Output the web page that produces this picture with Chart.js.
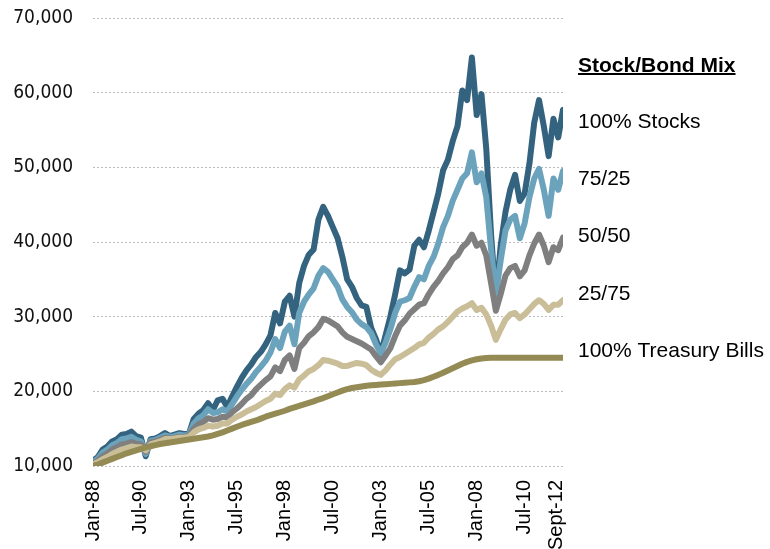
<!DOCTYPE html>
<html>
<head>
<meta charset="utf-8">
<title>Stock/Bond Mix</title>
<script src="https://cdn.jsdelivr.net/npm/chart.js@4.4.1/dist/chart.umd.min.js"></script>
<style>
    html, body { margin: 0; padding: 0; background: #ffffff; }
    #wrap { width: 770px; height: 549px; }
</style>
</head>
<body>
<div id="wrap"><canvas id="chart" width="770" height="549"></canvas></div>
<script>
    // Valores trimestrais (Jan-88 ... Jul-12), crescimento de 10.000
    const stocks100 = [
        10700, 11200, 12200, 12600, 13300, 13600, 14200, 14300, 14600, 14000,
        13800, 11300, 13600, 13700, 14000, 14400, 14000, 14200, 14400, 14300,
        14300, 16300, 17000, 17500, 18400, 17500, 18800, 19000, 17900, 19300,
        20600, 21800, 22800, 23600, 24600, 25300, 26300, 27500, 30500, 29100,
        32000, 32800, 30000, 34500, 36800, 38300, 39000, 43000, 44700, 43500,
        42000, 40500, 38000, 35000, 34000, 32500, 31500, 31300, 28500, 27000,
        25000, 27500, 30000, 33000, 36200, 35800, 36300, 39500, 40300, 39300,
        41500, 44000, 46500, 49600, 51000, 53500, 55500, 60300, 59000, 64700,
        57000, 59800, 52500, 41000, 32500, 39500, 44000, 47000, 49000, 45500,
        46500, 50500, 56000, 59000, 55500, 51500, 56500, 54000, 57700
    ];
    const mix7525 = [
        10500, 11000, 11800, 12200, 12800, 13100, 13600, 13700, 13900, 13500,
        13300, 11600, 13400, 13500, 13800, 14100, 13900, 14000, 14200, 14100,
        14200, 15700, 16400, 16800, 17600, 17100, 17200, 17600, 17300, 18300,
        19300, 20200, 21000, 21700, 22600, 23300, 24100, 25200, 27000, 25800,
        28000, 28800, 26300, 30500, 32000, 33000, 33800, 35500, 36500, 36000,
        35000, 34000, 32300, 31300, 30600, 29600, 29000, 28600, 27800, 26300,
        25100, 26500, 28300, 30500, 32000, 32200, 32500, 34000, 35300, 35000,
        36800, 38000, 39800, 42000, 43500, 45500, 47000, 48500, 49200, 52000,
        48000, 49200, 46000, 39000, 33000, 37500, 41500, 43000, 43500, 40500,
        42500, 46000, 48500, 49800, 47000, 43500, 48500, 47000, 49500
    ];
    const mix5050 = [
        10300, 10700, 11300, 11700, 12200, 12500, 12900, 13000, 13200, 13000,
        12900, 11900, 13200, 13300, 13500, 13800, 13700, 13800, 13900, 13900,
        14000, 15000, 15600, 15900, 16400, 16200, 16300, 16600, 16500, 17200,
        17700, 18300, 19000, 19500, 20300, 20900, 21500, 22000, 23200, 22700,
        24200, 24800, 23000, 25800, 26500, 27400, 27900, 28600, 29700, 29500,
        29100, 28700, 27900, 27300, 27000, 26700, 26400, 26000, 25600, 24700,
        23900, 24800, 25800, 27400, 28800, 29500, 30400, 31000, 31600, 31800,
        33000, 34000, 34800, 35800, 36600, 37700, 38200, 39300, 39900, 41000,
        39500, 39900, 38200, 34500, 30800, 33000, 35500, 36500, 36800, 35400,
        36200, 38200, 39800, 41000, 39500, 37300, 39300, 38900, 40600
    ];
    const mix2575 = [
        10200, 10500, 10900, 11200, 11600, 11900, 12200, 12400, 12600, 12500,
        12500, 12100, 12900, 13100, 13300, 13600, 13600, 13700, 13800, 13800,
        13900, 14500, 14900, 15100, 15400, 15300, 15400, 15700, 15700, 16200,
        16600, 16900, 17300, 17600, 17900, 18300, 18700, 19000, 19700, 19500,
        20300, 20800, 20500, 21600, 22100, 22700, 23000, 23500, 24200, 24100,
        23900, 23700, 23400, 23400, 23600, 23800, 23700, 23500, 22900, 22500,
        22200, 22800, 23600, 24300, 24600, 25000, 25400, 25800, 26300, 26500,
        27200, 27700, 28300, 28700, 29300, 30000, 30700, 31100, 31400, 31800,
        30900, 31200, 30300, 28800, 26900, 28300, 29600, 30300, 30500, 29800,
        30300, 31000, 31700, 32200, 31700, 30900, 31600, 31600, 32200
    ];
    const tbills = [
        10000, 10200, 10450, 10700, 10950, 11200, 11450, 11700, 11900, 12100,
        12300, 12500, 12650, 12800, 12950, 13050, 13150, 13250, 13350, 13450,
        13550, 13650, 13750, 13850, 13950, 14100, 14300, 14500, 14750, 15000,
        15250, 15500, 15700, 15900, 16100, 16350, 16600, 16800, 17000, 17200,
        17400, 17650, 17850, 18050, 18250, 18450, 18650, 18900, 19100, 19350,
        19600, 19850, 20100, 20300, 20450, 20550, 20650, 20750, 20800, 20850,
        20900, 20950, 21000, 21050, 21100, 21150, 21200, 21250, 21350, 21500,
        21700, 21950, 22200, 22500, 22800, 23100, 23400, 23700, 23950, 24150,
        24300, 24400, 24450, 24500, 24500, 24500, 24500, 24500, 24500, 24500,
        24500, 24500, 24500, 24500, 24500, 24500, 24500, 24500, 24500
    ];

    const seriesNames = ['100% Stocks', '75/25', '50/50', '25/75', '100% Treasury Bills'];
    const seriesValues = [stocks100, mix7525, mix5050, mix2575, tbills];
    const seriesColors = ['#34637f', '#6ba3bc', '#7f7f7f', '#c9be98', '#948a54'];

    // Rótulos do eixo x (meses desde Jan-88)
    const tickMonths = [0, 30, 60, 90, 120, 150, 180, 210, 240, 270, 290];
    const tickLabels = ['Jan-88', 'Jul-90', 'Jan-93', 'Jul-95', 'Jan-98', 'Jul-00',
                        'Jan-03', 'Jul-05', 'Jan-08', 'Jul-10', 'Sept-12'];

    const yTicks = [10000, 20000, 30000, 40000, 50000, 60000, 70000];

    // Legenda desenhada à direita, como no original
    const sideLegend = {
        id: 'sideLegend',
        afterDraw(chart) {
            const c = chart.ctx;
            const x = 578;
            c.save();
            c.fillStyle = '#000000';
            c.textBaseline = 'alphabetic';
            c.textAlign = 'left';
            c.font = 'bold 21px "Liberation Sans", Arial, sans-serif';
            const title = 'Stock/Bond Mix';
            c.fillText(title, x, 72);
            const w = c.measureText(title).width;
            c.fillRect(x, 73, w, 2);
            c.font = '21px "Liberation Sans", Arial, sans-serif';
            chart.data.datasets.forEach((ds, i) => {
                c.fillText(ds.label, x, 128 + i * 57.2);
            });
            c.restore();
        }
    };

    const datasets = seriesNames.map((name, i) => ({
        label: name,
        data: seriesValues[i].map((v, q) => ({ x: q * 3, y: v })),
        borderColor: seriesColors[i],
        backgroundColor: seriesColors[i],
        borderWidth: 6,
        pointRadius: 0,
        tension: 0,
        borderJoinStyle: 'round',
        borderCapStyle: 'round',
        order: seriesNames.length - i
    }));

    const ctx = document.getElementById('chart').getContext('2d');
    new Chart(ctx, {
        type: 'line',
        data: { datasets: datasets },
        options: {
            responsive: false,
            animation: false,
            layout: { padding: { left: 13, right: 207, top: 18, bottom: 0 } },
            plugins: {
                legend: { display: false },
                tooltip: { enabled: false }
            },
            scales: {
                x: {
                    type: 'linear',
                    min: 0,
                    max: 294,
                    grid: { display: false, drawTicks: false },
                    border: { display: false },
                    afterBuildTicks: (axis) => {
                        axis.ticks = tickMonths.map(v => ({ value: v }));
                    },
                    afterFit: (axis) => { axis.height = 83; },
                    ticks: {
                        autoSkip: false,
                        maxRotation: 90,
                        minRotation: 90,
                        padding: 14,
                        color: '#000000',
                        font: { family: '"Liberation Sans", Arial, sans-serif', size: 20 },
                        callback: (value) => {
                            const i = tickMonths.indexOf(value);
                            return i >= 0 ? tickLabels[i] : '';
                        }
                    }
                },
                y: {
                    min: 10000,
                    max: 70000,
                    grid: { color: '#bdbdbd', lineWidth: 1, drawTicks: false },
                    border: { display: false, dash: [2, 2] },
                    afterBuildTicks: (axis) => {
                        axis.ticks = yTicks.map(v => ({ value: v }));
                    },
                    afterFit: (axis) => {
                        axis.width = 80;
                        axis.paddingTop = 0;
                        axis.paddingBottom = 0;
                    },
                    ticks: {
                        padding: 20,
                        color: '#111111',
                        font: { family: '"DejaVu Sans Condensed", "DejaVu Sans", sans-serif', size: 19 },
                        callback: (value) => value.toLocaleString('en-US')
                    }
                }
            }
        },
        plugins: [sideLegend]
    });
</script>
</body>
</html>
